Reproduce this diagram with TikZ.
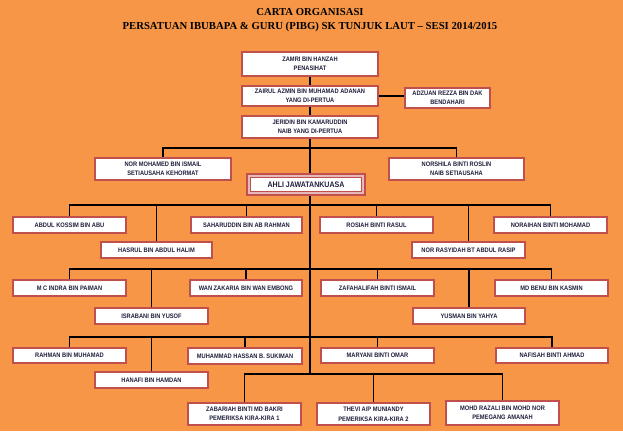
\documentclass[tikz,border=0pt]{standalone}
\usepackage{fontspec}
\setmainfont{Liberation Serif}
\newfontfamily\boxfont{Liberation Sans}[FakeStretch=0.88]
\definecolor{bgorange}{HTML}{F79646}
\definecolor{boxred}{HTML}{C0504D}
\definecolor{pinkband}{HTML}{E6B9B8}
\definecolor{navy}{HTML}{1E1E3C}
\newcommand{\pb}[7][]{%
  \node[pbox,#1,minimum width={(#5-#3-1.8)*1pt},minimum height={(#6-#4-1.8)*1pt}]
    (#2) at ({(#3+#5)/2},{(#4+#6)/2}) {#7};}
\begin{document}
\begin{tikzpicture}[x=1pt,y=-1pt,
  pbox/.style={draw=boxred,line width=1.8pt,fill=white,inner sep=0pt,align=center,
    text=navy,font=\boxfont\bfseries\fontsize{6.5}{9.5}\selectfont},
  ahlibox/.style={fill=pinkband,font=\boxfont\bfseries\fontsize{8}{9}\selectfont,
    path picture={\draw[boxred,line width=0.8pt,fill=white]
      ([shift={(3.6pt,-3.6pt)}]path picture bounding box.north west) rectangle
      ([shift={(-3.6pt,3.6pt)}]path picture bounding box.south east);}},
  conn/.style={draw=black,line width=1.4pt},
  title/.style={font=\bfseries\fontsize{10.7}{14}\selectfont,align=center,text=black}]
\useasboundingbox[fill=bgorange] (0,0) rectangle (623,431);
\node[title] (ttl) at (310,20) {CARTA ORGANISASI\\PERSATUAN IBUBAPA \& GURU (PIBG) SK TUNJUK LAUT -- SESI 2014/2015};
% top
\pb{zam}{241}{51}{379}{77}{ZAMRI BIN HANZAH\\PENASIHAT}
\pb{zai}{241}{85}{379}{107}{ZAIRUL AZMIN BIN MUHAMAD ADANAN\\YANG DI-PERTUA}
\pb{adz}{404}{87}{491}{109}{ADZUAN REZZA BIN DAK\\BENDAHARI}
\pb{jer}{241}{115}{379}{139}{JERIDIN BIN KAMARUDDIN\\NAIB YANG DI-PERTUA}
\pb{nm}{94}{157}{232}{181}{NOR MOHAMED BIN ISMAIL\\SETIAUSAHA KEHORMAT}
\pb{ns}{388}{157}{525}{181}{NORSHILA BINTI ROSLIN\\NAIB SETIAUSAHA}
\pb[ahlibox]{ahli}{246}{173}{366}{196}{AHLI JAWATANKUASA}
% row 1
\pb{ra}{12}{216}{127}{234}{ABDUL KOSSIM BIN ABU}
\pb{rb}{100}{241}{213}{259}{HASRUL BIN ABDUL HALIM}
\pb{rc}{190}{216}{303}{234}{SAHARUDDIN BIN AB RAHMAN}
\pb{rd}{319}{216}{434}{234}{ROSIAH BINTI RASUL}
\pb{re}{411}{241}{526}{259}{NOR RASYIDAH BT ABDUL RASIP}
\pb{rf}{493}{216}{608}{234}{NORAIHAN BINTI MOHAMAD}
% row 2
\pb{sa}{12}{279}{127}{297}{M C INDRA BIN PAIMAN}
\pb{sb}{94}{307}{209}{325}{ISRABANI BIN YUSOF}
\pb{sc}{189}{279}{303}{297}{WAN ZAKARIA BIN WAN EMBONG}
\pb{sd}{320}{279}{435}{297}{ZAFAHALIFAH BINTI ISMAIL}
\pb{se}{412}{307}{526}{325}{YUSMAN BIN YAHYA}
\pb{sf}{494}{279}{609}{297}{MD BENU BIN KASMIN}
% row 3
\pb{ta}{12}{347}{127}{364}{RAHMAN BIN MUHAMAD}
\pb{tb}{94}{371}{209}{389}{HANAFI BIN HAMDAN}
\pb{tc}{187}{347}{303}{365}{MUHAMMAD HASSAN B. SUKIMAN}
\pb{td}{320}{347}{435}{364}{MARYANI BINTI OMAR}
\pb{tf}{495}{347}{609}{364}{NAFISAH BINTI AHMAD}
% bottom
\pb{ua}{187}{402}{302}{426}{ZABARIAH BINTI MD BAKRI\\PEMERIKSA KIRA-KIRA 1}
\pb{ub}{316}{402}{431}{426}{THEVI A/P MUNIANDY\\PEMERIKSA KIRA-KIRA 2}
\pb{uc}{445}{400}{560}{426}{MOHD RAZALI BIN MOHD NOR\\PEMEGANG AMANAH}
% junctions
\coordinate (h0) at (310,148);
\coordinate (h1) at (310,205);
\coordinate (h2) at (310,269);
\coordinate (h3) at (310,337);
\coordinate (h4) at (310,374);
% connectors
\draw[conn] (zam.south) -- (zai.north);
\draw[conn] (zai.east) -- (adz.west |- zai.east);
\draw[conn] (zai.south) -- (jer.north);
\draw[conn] (jer.south) -- (jer.south |- ahli.north);
\draw[conn] (nm.north) |- (h0) -| (ns.north);
\draw[conn] (h4 |- ahli.south) -- (h4);
\draw[conn] (ra.north) |- (h1) -| (rf.north);
\draw[conn] (rb.north) -- (rb.north |- h1);
\draw[conn] (rc.north) -- (rc.north |- h1);
\draw[conn] (rd.north) -- (rd.north |- h1);
\draw[conn] (re.north) -- (re.north |- h1);
\draw[conn] (sa.north) |- (h2) -| (sf.north);
\draw[conn] (sb.north) -- (sb.north |- h2);
\draw[conn] (sc.north) -- (sc.north |- h2);
\draw[conn] (sd.north) -- (sd.north |- h2);
\draw[conn] (se.north) -- (se.north |- h2);
\draw[conn] (ta.north) |- (h3) -| (tf.north);
\draw[conn] (tb.north) -- (tb.north |- h3);
\draw[conn] (tc.north) -- (tc.north |- h3);
\draw[conn] (td.north) -- (td.north |- h3);
\draw[conn] (ua.north) |- (h4) -| (uc.north);
\draw[conn] (ub.north) -- (ub.north |- h4);
\end{tikzpicture}
\end{document}
